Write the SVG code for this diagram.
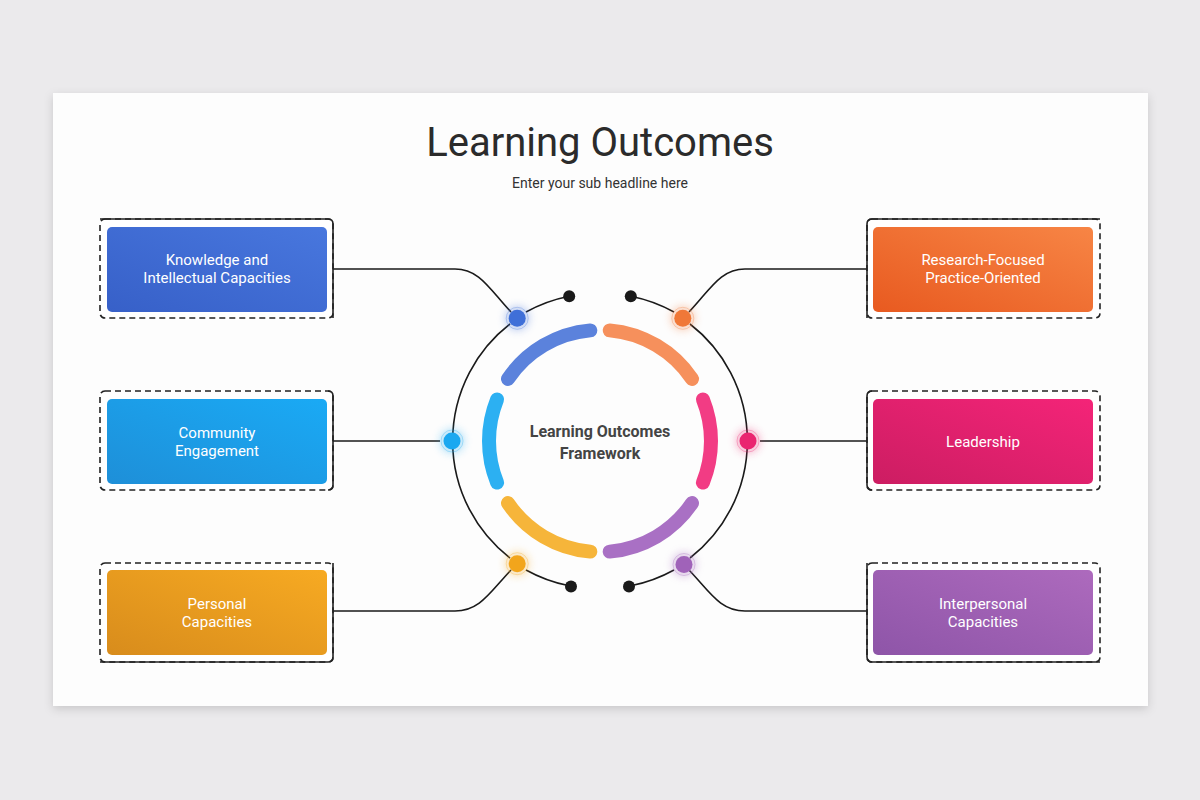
<svg xmlns="http://www.w3.org/2000/svg" width="1200" height="800" viewBox="0 0 1200 800">
<defs>
<style>
.t{font-family:Roboto,"Liberation Sans",sans-serif;fill:#fff;font-size:15px;text-anchor:middle}
.fr{fill:#fff;stroke:#222;stroke-width:1.6;stroke-dasharray:6 4}
.sd{fill:none;stroke:#222;stroke-width:1.6}
.ln{fill:none;stroke:#1a1a1a;stroke-width:1.6}
.arc{fill:none;stroke-width:14;stroke-linecap:round}
</style>
<filter id="sh" x="-5%" y="-5%" width="110%" height="112%"><feDropShadow dx="0" dy="3" stdDeviation="5" flood-opacity="0.15"/></filter>
<filter id="gl" x="-100%" y="-100%" width="300%" height="300%"><feGaussianBlur stdDeviation="4"/></filter>
<linearGradient id="gB" x1="0" y1="1" x2="1" y2="0"><stop offset="0" stop-color="#3760c8"/><stop offset="1" stop-color="#4877de"/></linearGradient>
<linearGradient id="gC" x1="0" y1="1" x2="1" y2="0"><stop offset="0" stop-color="#1e8fd8"/><stop offset="1" stop-color="#1aaaf5"/></linearGradient>
<linearGradient id="gY" x1="0" y1="1" x2="1" y2="0"><stop offset="0" stop-color="#d88c1c"/><stop offset="1" stop-color="#f7aa22"/></linearGradient>
<linearGradient id="gO" x1="0" y1="1" x2="1" y2="0"><stop offset="0" stop-color="#e85a20"/><stop offset="1" stop-color="#f78545"/></linearGradient>
<linearGradient id="gP" x1="0" y1="1" x2="1" y2="0"><stop offset="0" stop-color="#cc1d62"/><stop offset="1" stop-color="#f42478"/></linearGradient>
<linearGradient id="gV" x1="0" y1="1" x2="1" y2="0"><stop offset="0" stop-color="#8e55a8"/><stop offset="1" stop-color="#ad6abd"/></linearGradient>
</defs>
<rect width="1200" height="800" fill="#ebeaec"/>
<rect x="53" y="93" width="1095" height="613" fill="#fdfdfd" filter="url(#sh)"/>
<text x="600" y="156" font-family="Roboto,'Liberation Sans',sans-serif" font-size="40" fill="#2b2b2b" text-anchor="middle">Learning Outcomes</text>
<text x="600" y="188" font-family="Roboto,'Liberation Sans',sans-serif" font-size="14" fill="#333" text-anchor="middle">Enter your sub headline here</text>

<g id="connectors">
<path class="ln" d="M333,269 H455 C480,269 490,290 511,312"/>
<path class="ln" d="M333,441 H440"/>
<path class="ln" d="M333,611 H455 C480,611 490,592 511,570"/>
<path class="ln" d="M867,269 H745 C720,269 710,290 689,312"/>
<path class="ln" d="M867,441 H760"/>
<path class="ln" d="M867,611 H745 C720,611 710,592 689,570"/>
<path class="ln" d="M510,324 A148 148 0 0 0 510,558"/>
<path class="ln" d="M690,324 A148 148 0 0 1 690,558"/>
<path class="ln" d="M526,312 A148 148 0 0 1 569.2,296.2"/>
<path class="ln" d="M630.8,296.2 A148 148 0 0 1 674,312"/>
<path class="ln" d="M526,570 A148 148 0 0 0 569.2,585.8"/>
<path class="ln" d="M630.8,585.8 A148 148 0 0 0 674,570"/>
<circle cx="569.2" cy="296.2" r="6" fill="#1a1a1a"/>
<circle cx="630.8" cy="296.2" r="6" fill="#1a1a1a"/>
<circle cx="571" cy="586.5" r="6" fill="#1a1a1a"/>
<circle cx="629" cy="586.5" r="6" fill="#1a1a1a"/>
</g>

<g id="hub">
<path class="arc" stroke="#5b82dc" d="M508,378.9 A111 111 0 0 1 590.3,330.4"/>
<path class="arc" stroke="#f6905c" d="M609.7,330.4 A111 111 0 0 1 692,378.9"/>
<path class="arc" stroke="#f23c84" d="M702.9,399.4 A111 111 0 0 1 702.9,482.6"/>
<path class="arc" stroke="#a970c4" d="M692,503.1 A111 111 0 0 1 609.7,551.6"/>
<path class="arc" stroke="#f6b53a" d="M590.3,551.6 A111 111 0 0 1 508,503.1"/>
<path class="arc" stroke="#2cb0f2" d="M497.1,482.6 A111 111 0 0 1 497.1,399.4"/>
<text x="600" y="437" font-family="Roboto,'Liberation Sans',sans-serif" font-size="16" font-weight="bold" fill="#444" text-anchor="middle">Learning Outcomes</text>
<text x="600" y="459" font-family="Roboto,'Liberation Sans',sans-serif" font-size="16" font-weight="bold" fill="#444" text-anchor="middle">Framework</text>
</g>

<g id="dots">
<g><circle cx="517.2" cy="318.3" r="12" fill="#3f6fd8" opacity="0.35" filter="url(#gl)"/><circle cx="517.2" cy="318.3" r="11" fill="none" stroke="#3f6fd8" stroke-opacity="0.3"/><circle cx="517.2" cy="318.3" r="8.5" fill="#3f6fd8"/></g>
<g><circle cx="452" cy="441" r="12" fill="#1ba8f0" opacity="0.35" filter="url(#gl)"/><circle cx="452" cy="441" r="11" fill="none" stroke="#1ba8f0" stroke-opacity="0.3"/><circle cx="452" cy="441" r="8.5" fill="#1ba8f0"/></g>
<g><circle cx="517.2" cy="563.7" r="12" fill="#f2a51c" opacity="0.35" filter="url(#gl)"/><circle cx="517.2" cy="563.7" r="11" fill="none" stroke="#f2a51c" stroke-opacity="0.3"/><circle cx="517.2" cy="563.7" r="8.5" fill="#f2a51c"/></g>
<g><circle cx="682.8" cy="318.3" r="12" fill="#f07838" opacity="0.35" filter="url(#gl)"/><circle cx="682.8" cy="318.3" r="11" fill="none" stroke="#f07838" stroke-opacity="0.3"/><circle cx="682.8" cy="318.3" r="8.5" fill="#f07838"/></g>
<g><circle cx="748" cy="441" r="12" fill="#ea2570" opacity="0.35" filter="url(#gl)"/><circle cx="748" cy="441" r="11" fill="none" stroke="#ea2570" stroke-opacity="0.3"/><circle cx="748" cy="441" r="8.5" fill="#ea2570"/></g>
<g><circle cx="684" cy="564.5" r="12" fill="#a062b9" opacity="0.35" filter="url(#gl)"/><circle cx="684" cy="564.5" r="11" fill="none" stroke="#a062b9" stroke-opacity="0.3"/><circle cx="684" cy="564.5" r="8.5" fill="#a062b9"/></g>
</g>

<g id="n1"><rect class="fr" x="100" y="219" width="233" height="99" rx="5"/><path class="sd" d="M100,219 H328 Q333,219 333,224 V318"/><rect x="107" y="227" width="220" height="85" rx="5" fill="url(#gB)"/><text class="t" x="217" y="265">Knowledge and</text><text class="t" x="217" y="283">Intellectual Capacities</text></g>
<g id="n2"><rect class="fr" x="100" y="391" width="233" height="99" rx="5"/><path class="sd" d="M328,391 Q333,391 333,396 V485 Q333,490 328,490"/><rect x="107" y="399" width="220" height="85" rx="5" fill="url(#gC)"/><text class="t" x="217" y="438">Community</text><text class="t" x="217" y="456">Engagement</text></g>
<g id="n3"><rect class="fr" x="100" y="563" width="233" height="99" rx="5"/><path class="sd" d="M333,563 V657 Q333,662 328,662 H100"/><rect x="107" y="570" width="220" height="85" rx="5" fill="url(#gY)"/><text class="t" x="217" y="609">Personal</text><text class="t" x="217" y="627">Capacities</text></g>
<g id="n4"><rect class="fr" x="867" y="219" width="233" height="99" rx="5"/><path class="sd" d="M1100,219 H872 Q867,219 867,224 V318"/><rect x="873" y="227" width="220" height="85" rx="5" fill="url(#gO)"/><text class="t" x="983" y="265">Research-Focused</text><text class="t" x="983" y="283">Practice-Oriented</text></g>
<g id="n5"><rect class="fr" x="867" y="391" width="233" height="99" rx="5"/><path class="sd" d="M872,391 Q867,391 867,396 V485 Q867,490 872,490"/><rect x="873" y="399" width="220" height="85" rx="5" fill="url(#gP)"/><text class="t" x="983" y="447">Leadership</text></g>
<g id="n6"><rect class="fr" x="867" y="563" width="233" height="99" rx="5"/><path class="sd" d="M867,563 V657 Q867,662 872,662 H1100"/><rect x="873" y="570" width="220" height="85" rx="5" fill="url(#gV)"/><text class="t" x="983" y="609">Interpersonal</text><text class="t" x="983" y="627">Capacities</text></g>
</svg>
